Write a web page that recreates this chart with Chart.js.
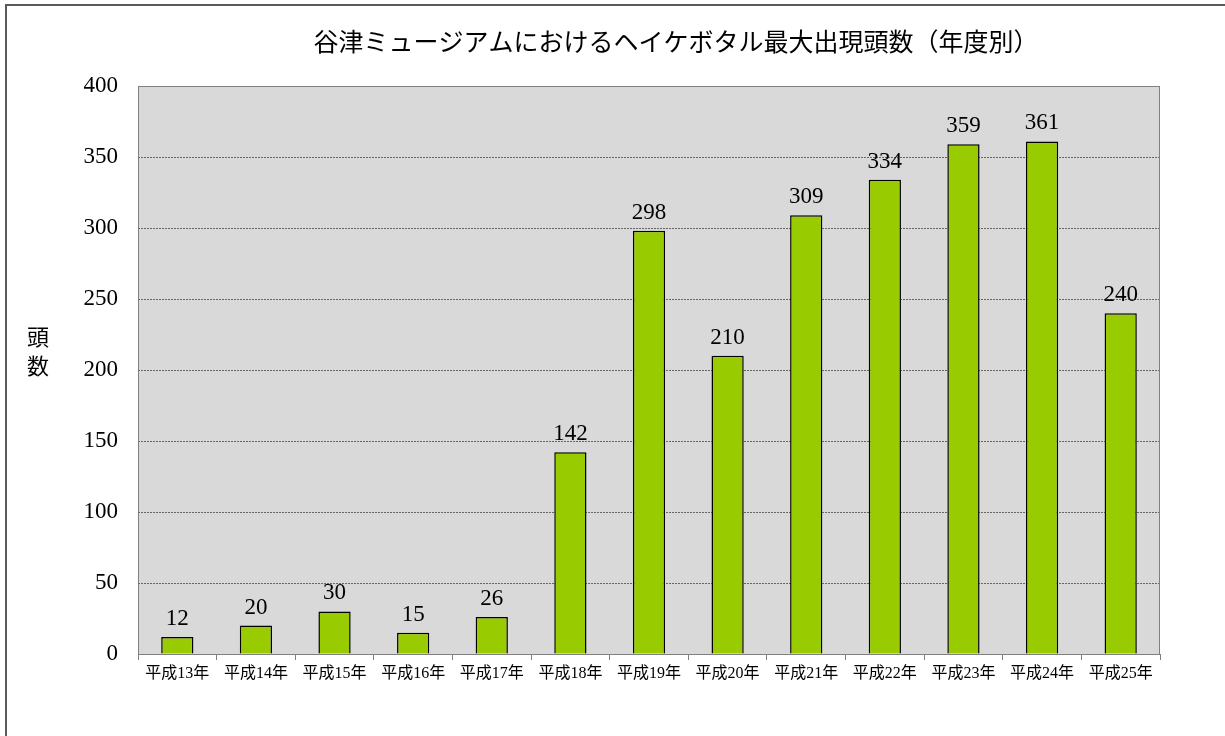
<!DOCTYPE html>
<html lang="ja">
<head>
<meta charset="UTF-8">
<title>ヘイケボタル最大出現頭数</title>
<script src="https://cdn.jsdelivr.net/npm/chart.js"></script>
<style>
    body { margin: 0; background: #ffffff; }
    #frame {
        position: absolute; left: 5px; top: 4px; width: 1225px; height: 740px;
        border-top: 2px solid #5a5a5a; border-left: 2px solid #5a5a5a;
    }
    #chart { position: absolute; left: 0; top: 0; }
</style>
</head>
<body>
<div id="frame"></div>
<canvas id="chart" width="1225" height="736"></canvas>
<script>
// data
var years = ['平成13年', '平成14年', '平成15年', '平成16年', '平成17年', '平成18年', '平成19年',
             '平成20年', '平成21年', '平成22年', '平成23年', '平成24年', '平成25年'];
var counts = [12, 20, 30, 15, 26, 142, 298, 210, 309, 334, 359, 361, 240];
var chartTitle = '谷津ミュージアムにおけるヘイケボタル最大出現頭数（年度別）';
var yLabel = ['頭', '数'];

var serif = "'Liberation Serif', 'Noto Sans CJK JP', serif";

// gray plot background + frame, title, vertical axis label, value labels
var decorations = {
    id: 'decorations',
    beforeDraw: function (chart) {
        var a = chart.chartArea, ctx = chart.ctx;
        ctx.save();
        ctx.fillStyle = '#d9d9d9';
        ctx.fillRect(a.left, a.top, a.right - a.left, a.bottom - a.top);
        ctx.restore();
    },
    afterDatasetsDraw: function (chart) {
        var a = chart.chartArea, ctx = chart.ctx;
        ctx.save();
        ctx.strokeStyle = '#808080';
        ctx.lineWidth = 1;
        ctx.strokeRect(a.left + 0.5, a.top + 0.5, a.right - a.left - 1, a.bottom - a.top);

        ctx.fillStyle = '#000';
        ctx.textAlign = 'center';
        ctx.textBaseline = 'middle';
        ctx.font = '25px ' + serif;
        ctx.fillText(chartTitle, 676, 44);

        ctx.font = '22px ' + serif;
        ctx.fillText(yLabel[0], 38, 339);
        ctx.fillText(yLabel[1], 38, 368);

        ctx.font = '23px ' + serif;
        ctx.textBaseline = 'alphabetic';
        chart.getDatasetMeta(0).data.forEach(function (bar, i) {
            ctx.fillText(counts[i], bar.x, bar.y - 12);
        });
        ctx.restore();
    }
};

new Chart(document.getElementById('chart'), {
    type: 'bar',
    data: {
        labels: years,
        datasets: [{
            data: counts,
            backgroundColor: '#99cc00',
            borderColor: '#000000',
            borderWidth: 1.5,
            barPercentage: 0.41,
            categoryPercentage: 1.0
        }]
    },
    options: {
        responsive: false,
        animation: false,
        devicePixelRatio: 1,
        layout: { padding: { left: 0, right: 65, top: 86, bottom: 42 } },
        plugins: {
            legend: { display: false },
            tooltip: { enabled: false }
        },
        scales: {
            x: {
                afterFit: function (s) { s.height = 40; },
                border: { display: false },
                grid: { drawOnChartArea: false, drawTicks: true, tickLength: 6, color: '#808080' },
                ticks: { color: '#000', padding: 4, maxRotation: 0, font: { family: serif, size: 16 } }
            },
            y: {
                min: 0,
                max: 400,
                afterFit: function (s) { s.width = 138; },
                border: { display: false, dash: [2, 1] },
                grid: { color: '#666666', drawTicks: false },
                ticks: { stepSize: 50, color: '#000', padding: 20, font: { family: serif, size: 23 } }
            }
        }
    },
    plugins: [decorations]
});
</script>
</body>
</html>
